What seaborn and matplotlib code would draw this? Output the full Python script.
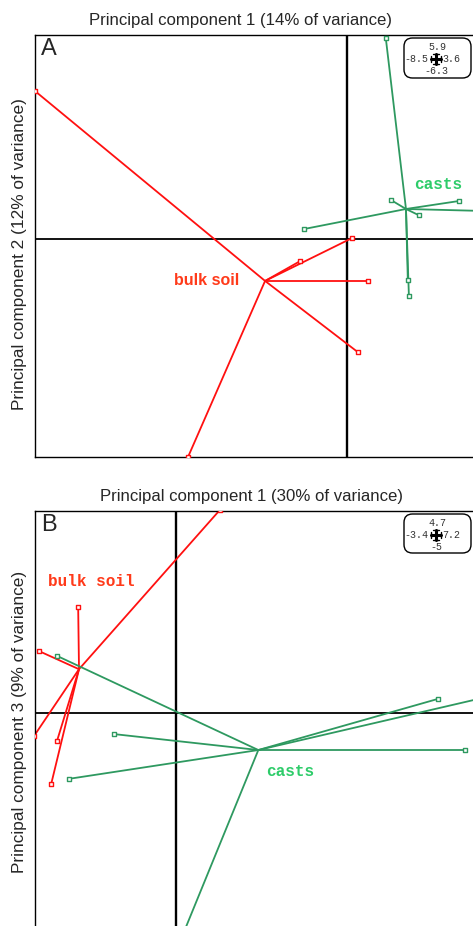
import numpy as np
import pandas as pd
import matplotlib
matplotlib.use("Agg")
import matplotlib.pyplot as plt
from matplotlib.patches import FancyBboxPatch
import seaborn as sns

# ---------------- data ----------------
# Panel A : PC1 (x) vs PC2 (y)
a_bulk_centroid = (-2.23, -1.21)
a_bulk_x = [-8.50, -4.33, 0.30, 0.57, 0.14, -1.28]
a_bulk_y = [4.28, -6.30, -3.27, -1.21, 0.03, -0.64]
a_cast_centroid = (1.61, 0.87)
a_cast_x = [1.06, -1.17, 1.20, 1.96, 3.05, 4.20, 1.66, 1.69]
a_cast_y = [5.81, 0.29, 1.13, 0.69, 1.10, 0.80, -1.18, -1.65]
a_limits = (-8.5, 3.6, -6.3, 5.9)
a_title = "Principal component 1 (14% of variance)"
a_ylabel = "Principal component 2 (12% of variance)"

# Panel B : PC1 (x) vs PC3 (y)
b_bulk_centroid = (-2.34, 1.02)
b_bulk_x = [-2.36, -3.30, -3.42, -2.87, -3.01, 1.05]
b_bulk_y = [2.47, 1.44, -0.53, -0.65, -1.65, 4.72]
b_cast_centroid = (1.98, -0.86)
b_cast_x = [-2.87, -1.49, -2.58, 6.31, 7.60, 6.96, 0.10]
b_cast_y = [1.33, -0.49, -1.53, 0.33, 0.40, -0.86, -5.30]
b_limits = (-3.4, 7.2, -5.0, 4.7)
b_title = "Principal component 1 (30% of variance)"
b_ylabel = "Principal component 3 (9% of variance)"

groups = ["bulk soil", "casts"]

RED = "#FF1010"
GREEN = "#2E9960"
RED_LABEL = "#FF3A1A"
GREEN_LABEL = "#2ECC6A"
palette = {"bulk soil": RED, "casts": GREEN}

W, H = 473, 926


def fx(px):
    return px / W


def fy(py):
    return 1 - py / H


def build(centroids, xs, ys):
    rows = []
    pts = []
    seg = 0
    for g, (c, x, y) in zip(groups, zip(centroids, xs, ys)):
        for xi, yi in zip(x, y):
            rows.append(dict(seg=seg, group=g, x=c[0], y=c[1], o=0))
            rows.append(dict(seg=seg, group=g, x=xi, y=yi, o=1))
            pts.append(dict(group=g, x=xi, y=yi))
            seg += 1
    return pd.DataFrame(rows), pd.DataFrame(pts)


sns.set_style("white")
plt.rcParams["font.family"] = ["Liberation Sans", "DejaVu Sans"]

fig = plt.figure(figsize=(W / 100, H / 100), dpi=100)


def panel(box, limits, centroids, xs, ys, letter, title, title_xy,
          ylabel, ylabel_xy, labels, legend_box, legend_txt):
    left, top, right, bottom = box
    ax = fig.add_axes([fx(left), fy(bottom), (right - left) / W, (bottom - top) / H])
    ax.set_xlim(limits[0], limits[1])
    ax.set_ylim(limits[2], limits[3])
    ax.axvline(0, color="black", lw=1.7, zorder=1)
    ax.axhline(0, color="black", lw=1.3, zorder=1)
    seg_df, pts_df = build(centroids, xs, ys)
    sns.lineplot(data=seg_df, x="x", y="y", units="seg", hue="group",
                 estimator=None, sort=False, palette=palette, lw=1.3,
                 legend=False, ax=ax, zorder=2)
    for g in groups:
        sub = pts_df[pts_df.group == g]
        sns.scatterplot(data=sub, x="x", y="y", marker="s", s=9,
                        facecolor="white", edgecolor=palette[g], linewidth=1.0,
                        legend=False, ax=ax, zorder=3)
    ax.set_xlabel("")
    ax.set_ylabel("")
    ax.set_xticks([])
    ax.set_yticks([])
    for sp in ax.spines.values():
        sp.set_color("black")
        sp.set_linewidth(1.0)
        sp.set_visible(True)
    # group labels
    for (txt, x, y, col, fam) in labels:
        ax.text(x, y, txt, color=col, fontsize=11.5, fontweight="bold",
                family=fam, ha="center", va="center", zorder=4)
    # panel letter
    fig.text(fx(left + 6), fy(top + 3), letter, fontsize=17, ha="left", va="top")
    # titles
    fig.text(fx(title_xy[0]), fy(title_xy[1]), title, fontsize=12.1,
             ha="center", va="center")
    fig.text(fx(ylabel_xy[0]), fy(ylabel_xy[1]), ylabel, fontsize=12.4,
             ha="center", va="center", rotation=90)
    # scale box
    bx0, by0, bx1, by1 = legend_box
    patch = FancyBboxPatch((fx(bx0), fy(by1)), (bx1 - bx0) / W, (by1 - by0) / H,
                           boxstyle="round,pad=0,rounding_size=0.018",
                           transform=fig.transFigure, facecolor="white",
                           edgecolor="black", lw=1.0, mutation_aspect=W / H)
    fig.add_artist(patch)
    cx, cy = (bx0 + bx1) / 2 - 2, (by0 + by1) / 2 + 1
    tk = dict(fontsize=7.2, family=["Liberation Mono", "DejaVu Sans Mono"],
              color="#333333", va="center")
    fig.text(fx(cx + 2), fy(cy - 12), legend_txt[0], ha="center", **tk)
    fig.text(fx(cx - 7), fy(cy), legend_txt[1], ha="right", **tk)
    fig.text(fx(cx + 7), fy(cy), legend_txt[2], ha="left", **tk)
    fig.text(fx(cx + 1), fy(cy + 12), legend_txt[3], ha="center", **tk)
    # cross symbol
    segs = [((cx - 5, cy), (cx + 5, cy), 2.2), ((cx, cy - 5), (cx, cy + 5), 2.2),
            ((cx - 5, cy - 3), (cx - 5, cy + 3), 1.0), ((cx + 5, cy - 3), (cx + 5, cy + 3), 1.0),
            ((cx - 3, cy - 5), (cx + 3, cy - 5), 1.0), ((cx - 3, cy + 5), (cx + 3, cy + 5), 1.0)]
    for (p0, p1, lw) in segs:
        fig.add_artist(plt.Line2D([fx(p0[0]), fx(p1[0])], [fy(p0[1]), fy(p1[1])],
                                  transform=fig.transFigure, color="black", lw=lw))
    return ax


panel((35, 35, 479, 457), a_limits,
      [a_bulk_centroid, a_cast_centroid], [a_bulk_x, a_cast_x], [a_bulk_y, a_cast_y],
      "A", a_title, (240, 21), a_ylabel, (20, 254),
      [("bulk soil", -3.81, -1.21, RED_LABEL, ["Liberation Sans", "DejaVu Sans"]),
       ("casts", 2.48, 1.59, GREEN_LABEL, ["Liberation Mono", "DejaVu Sans Mono"])],
      (404, 38, 471, 78), ["5.9", "-8.5", "3.6", "-6.3"])

panel((35, 511, 475, 928), b_limits,
      [b_bulk_centroid, b_cast_centroid], [b_bulk_x, b_cast_x], [b_bulk_y, b_cast_y],
      "B", b_title, (251, 497), b_ylabel, (20, 722),
      [("bulk soil", -2.05, 3.05, RED_LABEL, ["Liberation Mono", "DejaVu Sans Mono"]),
       ("casts", 2.75, -1.35, GREEN_LABEL, ["Liberation Mono", "DejaVu Sans Mono"])],
      (404, 514, 471, 553), ["4.7", "-3.4", "7.2", "-5"])

fig.savefig("out.png", dpi=100)
